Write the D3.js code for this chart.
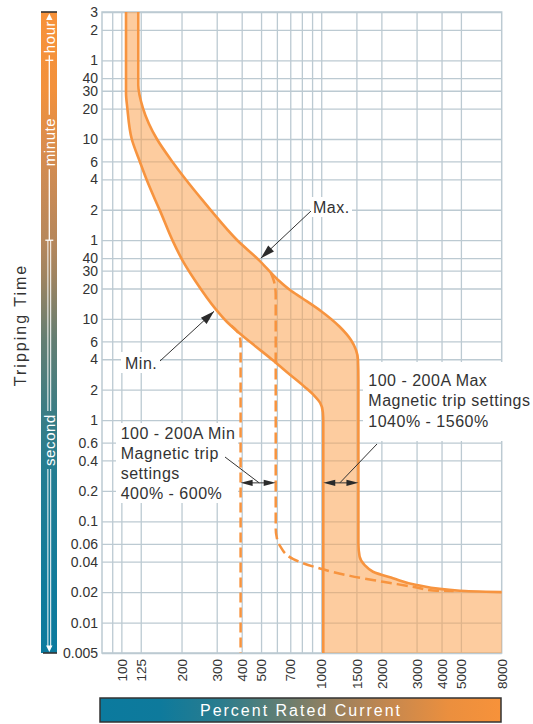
<!DOCTYPE html>
<html><head><meta charset="utf-8">
<script src="https://cdn.jsdelivr.net/npm/d3@7"></script>
<style>
body{margin:0;background:#fff;}
svg{display:block;font-family:"Liberation Sans",Arial,Helvetica,sans-serif;}
</style>
</head><body>
<svg id="c" width="533" height="724"></svg>
<script>
// ---------- data ----------
const xDomain = [80, 8000];
const yDomain = [0.005, 10800];
const xTickValues = [100,125,200,300,400,500,700,1000,1500,2000,3000,4000,5000,8000];
const xGridValues = [90,100,125,200,300,400,500,600,700,800,900,1000,1500,2000,3000,4000,5000];
const yTickValues = [10800,7200,3600,2400,1800,1200,600,360,240,120,60,40,30,20,10,6,4,2,1,0.6,0.4,0.2,0.1,0.06,0.04,0.02,0.01,0.005];
const yTickLabels = ["3","2","1","40","30","20","10","6","4","2","1","40","30","20","10","6","4","2","1","0.6","0.4","0.2","0.1","0.06","0.04","0.02","0.01","0.005"];
// [percent rated current, seconds]
const maxCurve = [[121.5,10800],[121.5,2050],[128.2,1215],[150.6,600],[180.3,356],[211,236],[254,150],[280,119],[379,60.3],[488,38.2],[608,24.3],[698,19.3],[801,16.1],[996,12.0],[1237,8.38],[1409,6.2],[1493,4.93],[1528,3.93],[1535,2.49],[1535,0.06],[1556,0.045],[1650,0.037],[1816,0.0318],[2286,0.0274],[3006,0.0235],[4945,0.0206],[8000,0.02]];
const minCurve = [[105.5,10800],[105.5,1710],[107.1,1215],[112.7,600],[123.9,356],[134,236],[147.7,150],[155.6,119],[179.9,60.3],[201.8,38.2],[232.8,24.3],[298.6,12.3],[338,9.33],[388.6,7.27],[470,5.35],[571,3.93],[691,2.86],[827,2.13],[927,1.73],[988,1.48],[1019,1.2],[1024,0.96],[1024,0.005]];
const minTripDashed = [[355,8.6],[379,7.57],[392,6.6],[395,5.65],[395,0.005]];
const maxTripDashed = [[560,28.4],[583,22.7],[592,17.2],[592,0.085],[600,0.0682],[622,0.0572],[725,0.0423],[986,0.0342],[1394,0.0289],[2037,0.0253],[3006,0.0222],[3625,0.0207],[4600,0.0205]];
const minSettingRange = [395, 592];
const maxSettingRange = [1024, 1535];
const settingArrowTime = 0.24;
const maxPointer = [499, 39.9];
const minPointer = [291, 11.9];
const hourMark = 3600, minuteMark = 60;

// ---------- setup ----------
const svg = d3.select("#c");
const x = d3.scaleLog().domain(xDomain).range([102, 501.7]);
const y = d3.scaleLog().domain(yDomain).range([653, 12]);
const gridColor = "#bccad2";
const orange = "#f7943f";
const textColor = "#333";
const labelMap = new Map(yTickValues.map((v,i)=>[v, yTickLabels[i]]));

const defs = svg.append("defs");
const vgrad = defs.append("linearGradient").attr("id","vgrad").attr("x1",0).attr("y1",0).attr("x2",0).attr("y2",1);
[[0,"#f7923a"],[0.12,"#f2913c"],[0.24,"#d28c52"],[0.36,"#b5875c"],[0.41,"#a08460"],[0.51,"#647e72"],[0.62,"#3c7d84"],[0.72,"#237d92"],[0.9,"#107b9b"],[1,"#0b7a9e"]]
  .forEach(s=>vgrad.append("stop").attr("offset",s[0]).attr("stop-color",s[1]));
const hgrad = defs.append("linearGradient").attr("id","hgrad").attr("x1",0).attr("y1",0).attr("x2",1).attr("y2",0);
[[0,"#0b7a9e"],[0.15,"#0e7a9c"],[0.3,"#2a7c8e"],[0.4,"#4e7e7c"],[0.5,"#787e69"],[0.62,"#a5825a"],[0.75,"#cd894b"],[0.87,"#eb8f3e"],[1,"#f7923a"]]
  .forEach(s=>hgrad.append("stop").attr("offset",s[0]).attr("stop-color",s[1]));

const x0 = x(xDomain[0]), x1 = x(xDomain[1]), yTop = y(yDomain[1]), yBot = y(yDomain[0]);

// ---------- grid via axes ----------
const gridY = svg.append("g").attr("transform",`translate(${x0},0)`)
  .call(d3.axisLeft(y).tickValues(yTickValues).tickSize(-(x1-x0)).tickFormat(""));
const gridX = svg.append("g").attr("transform",`translate(0,${yBot})`)
  .call(d3.axisBottom(x).tickValues(xGridValues).tickSize(-(yBot-yTop)).tickFormat(""));
[gridY,gridX].forEach(g=>{
  g.select(".domain").remove();
  g.selectAll("line").attr("stroke",gridColor).attr("stroke-width",1.3);
});
svg.append("rect").attr("x",x0).attr("y",yTop).attr("width",x1-x0).attr("height",yBot-yTop)
  .attr("fill","none").attr("stroke",gridColor).attr("stroke-width",1.5);

// ---------- band ----------
const line = d3.line().x(d=>x(d[0])).y(d=>y(d[1])).curve(d3.curveMonotoneY);
const maxPath = line(maxCurve);
const minRevPath = line(minCurve.slice().reverse());
const areaPath = maxPath + `L${x(xDomain[1])},${y(yDomain[0])}` + "L" + minRevPath.slice(1) + "Z";
svg.append("path").attr("d",areaPath).attr("fill","#fba350").attr("fill-opacity",0.55).attr("stroke","none");

svg.append("path").attr("d",line(minTripDashed)).attr("fill","none").attr("stroke",orange)
  .attr("stroke-width",2.5).attr("stroke-dasharray","10,5");
svg.append("path").attr("d",line(maxTripDashed)).attr("fill","none").attr("stroke",orange)
  .attr("stroke-width",2.5).attr("stroke-dasharray","11,5");
svg.append("path").attr("d",maxPath).attr("fill","none").attr("stroke",orange).attr("stroke-width",2.6);
svg.append("path").attr("d",line(minCurve)).attr("fill","none").attr("stroke",orange).attr("stroke-width",2.6);

// ---------- tick labels ----------
const yAxis = svg.append("g").attr("transform",`translate(${x0},0)`)
  .call(d3.axisLeft(y).tickValues(yTickValues).tickSize(0).tickPadding(4).tickFormat(d=>labelMap.get(d)));
yAxis.select(".domain").remove();
yAxis.selectAll("text").attr("font-size",14).attr("fill",textColor).attr("font-family","Liberation Sans, Arial, sans-serif").attr("dy","0.33em");

const xAxis = svg.append("g").attr("transform",`translate(0,${yBot})`)
  .call(d3.axisBottom(x).tickValues(xTickValues).tickSize(0).tickFormat(d=>String(d)));
xAxis.select(".domain").remove();
xAxis.selectAll("text").attr("font-size",13.5).attr("fill",textColor).attr("font-family","Liberation Sans, Arial, sans-serif")
  .attr("transform","rotate(-90)").attr("x",-6).attr("y",0).attr("dy","0.35em").attr("text-anchor","end");

// ---------- left title ----------
svg.append("text").attr("transform","translate(20,325) rotate(-90)").attr("text-anchor","middle").attr("dy","0.35em")
  .attr("font-size",16).attr("letter-spacing","2px").attr("fill",textColor).text("Tripping Time");

// ---------- vertical unit bar ----------
const bx = 49.3;
svg.append("rect").attr("x",41).attr("y",yTop).attr("width",16).attr("height",yBot-yTop).attr("fill","url(#vgrad)");
svg.append("line").attr("x1",41).attr("x2",57).attr("y1",yTop).attr("y2",yTop).attr("stroke","#333").attr("stroke-width",1.6);
svg.append("line").attr("x1",43).attr("x2",57).attr("y1",yBot).attr("y2",yBot).attr("stroke","#333").attr("stroke-width",1.6);
const unitLabels = [["hour",37],["minute",142],["second",440]];
const spans = unitLabels.map(([t,cy])=>{
  const el = svg.append("text").attr("transform",`translate(${bx},${cy}) rotate(-90)`).attr("text-anchor","middle")
    .attr("dy","0.35em").attr("font-size",15).attr("letter-spacing","0.6px").attr("fill","#fff").text(t);
  const L = el.node().getComputedTextLength();
  return [cy-L/2, cy+L/2];
});
const wl = (ya,yb,dx=0,w=1.3)=>svg.append("line").attr("x1",bx+dx).attr("x2",bx+dx).attr("y1",ya).attr("y2",yb).attr("stroke","#fff").attr("stroke-width",w);
const hY = y(hourMark), mY = y(minuteMark);
wl(yTop+7, spans[0][0]-2);
wl(spans[0][1]+2, spans[1][0]-3);
wl(spans[1][1]+3, mY);
wl(mY, spans[2][0]-3, -1.4, 1); wl(mY, spans[2][0]-3, 1.4, 1);
wl(spans[2][1]+3, yBot-6, -1.4, 1); wl(spans[2][1]+3, yBot-6, 1.4, 1);
[hY,mY].forEach(t=>svg.append("line").attr("x1",bx-4).attr("x2",bx+4).attr("y1",t).attr("y2",t).attr("stroke","#fff").attr("stroke-width",1.3));
svg.append("path").attr("d",`M${bx},${yTop+1.5}L${bx-3.2},${yTop+8}L${bx+3.2},${yTop+8}Z`).attr("fill","#fff");
svg.append("path").attr("d",`M${bx},${yBot-1}L${bx-3.2},${yBot-7.5}L${bx+3.2},${yBot-7.5}Z`).attr("fill","#fff");

// ---------- bottom bar ----------
svg.append("rect").attr("x",100).attr("y",698).attr("width",401).attr("height",24).attr("fill","url(#hgrad)")
  .attr("stroke","#333").attr("stroke-width",1.5);
svg.append("text").attr("x",301).attr("y",715.5).attr("text-anchor","middle").attr("font-size",16)
  .attr("letter-spacing","2px").attr("fill","#fff").text("Percent Rated Current");

// ---------- annotations ----------
function arrowHead(tx,ty,fx,fy,len=13,hw=4){
  const a = Math.atan2(ty-fy, tx-fx);
  const bxp = tx - len*Math.cos(a), byp = ty - len*Math.sin(a);
  const px = -Math.sin(a)*hw, py = Math.cos(a)*hw;
  svg.append("path").attr("d",`M${tx},${ty}L${bxp+px},${byp+py}L${bxp-px},${byp-py}Z`).attr("fill","#2b2b2b");
}
function pointer(fx,fy,tx,ty){
  svg.append("line").attr("x1",fx).attr("y1",fy).attr("x2",tx).attr("y2",ty).attr("stroke","#333").attr("stroke-width",1);
  arrowHead(tx,ty,fx,fy,14,4.2);
}
function dblArrow(xa,xb,yy){
  svg.append("line").attr("x1",xa+8).attr("x2",xb-8).attr("y1",yy).attr("y2",yy).attr("stroke","#333").attr("stroke-width",1);
  arrowHead(xa,yy,xb,yy,12,3.2);
  arrowHead(xb,yy,xa,yy,12,3.2);
}
const txt = (s,xx,yy)=>svg.append("text").attr("x",xx).attr("y",yy).attr("font-size",16).attr("letter-spacing","0.5px").attr("fill",textColor).text(s);

// Max.
svg.append("rect").attr("x",310).attr("y",197).attr("width",42).attr("height",20).attr("fill","#fff");
txt("Max.",313,212.5);
pointer(311,211,x(maxPointer[0]),y(maxPointer[1]));
// Min.
svg.append("rect").attr("x",121).attr("y",352).attr("width",39).attr("height",21).attr("fill","#fff");
txt("Min.",125,368.5);
pointer(160,361,x(minPointer[0]),y(minPointer[1]));

// Min magnetic trip box
const ay = y(settingArrowTime);
svg.append("rect").attr("x",116).attr("y",423).attr("width",122).attr("height",80).attr("fill","#fff");
["100 - 200A Min","Magnetic trip","settings","400% - 600%"].forEach((s,i)=>txt(s,120.7,438.5+i*20.2));
dblArrow(x(minSettingRange[0]),x(minSettingRange[1]),ay);
svg.append("line").attr("x1",225).attr("y1",457).attr("x2",(x(minSettingRange[0])+x(minSettingRange[1]))/2+1).attr("y2",ay).attr("stroke","#333").attr("stroke-width",1);

// Max magnetic trip box
svg.append("rect").attr("x",363).attr("y",362).attr("width",170).attr("height",79).attr("fill","#fff");
["100 - 200A Max","Magnetic trip settings","1040% - 1560%"].forEach((s,i)=>txt(s,368.3,386+i*20.3));
dblArrow(x(maxSettingRange[0]),x(maxSettingRange[1]),ay);
svg.append("line").attr("x1",377).attr("y1",444).attr("x2",(x(maxSettingRange[0])+x(maxSettingRange[1]))/2-1).attr("y2",ay).attr("stroke","#333").attr("stroke-width",1);
</script>
</body></html>
